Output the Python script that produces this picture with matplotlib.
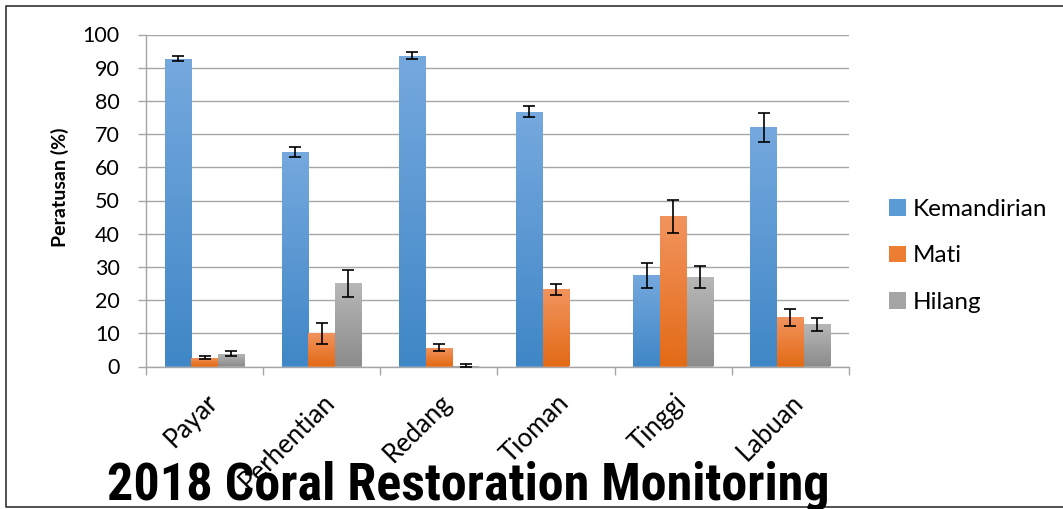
import numpy as np
import matplotlib
matplotlib.use("Agg")
import matplotlib.pyplot as plt
from matplotlib.colors import LinearSegmentedColormap
from matplotlib.patches import Patch
from matplotlib.lines import Line2D
from matplotlib import font_manager
from matplotlib.transforms import ScaledTranslation

# ---------------- data ----------------
categories = ["Payar", "Perhentian", "Redang", "Tioman", "Tinggi", "Labuan"]
series_names = ["Kemandirian", "Mati", "Hilang"]
kemandirian = [92.7, 64.6, 93.6, 76.7, 27.5, 72.1]
kemandirian_err = [0.75, 1.4, 1.0, 1.7, 3.8, 4.4]
mati = [2.7, 10.0, 5.7, 23.2, 45.3, 14.8]
mati_err = [0.5, 3.1, 1.0, 1.7, 5.0, 2.6]
hilang = [3.9, 25.1, 0.3, 0.0, 26.9, 12.7]
hilang_err = [0.65, 4.1, 0.4, 0.0, 3.4, 2.0]
yticks = [0, 10, 20, 30, 40, 50, 60, 70, 80, 90, 100]
title = "2018 Coral Restoration Monitoring"
ylabel = "Peratusan (%)"

values = [kemandirian, mati, hilang]
errors = [kemandirian_err, mati_err, hilang_err]

# colours: (top, bottom) of gradient, and legend colour
grad = [((0.46, 0.66, 0.87), (0.25, 0.53, 0.78)),
        ((0.95, 0.58, 0.37), (0.89, 0.42, 0.09)),
        ((0.72, 0.72, 0.72), (0.55, 0.55, 0.55))]
legend_cols = ["#5b9bd5", "#ed7d31", "#a5a5a5"]

names = {f.name for f in font_manager.fontManager.ttflist}
base_font = "Lato" if "Lato" in names else "DejaVu Sans"
plt.rcParams['font.family'] = [base_font, 'DejaVu Sans']

W, H = 1063, 509
fig = plt.figure(figsize=(W / 100, H / 100), dpi=100)
ax = fig.add_axes([146 / W, 1 - 366.5 / H, (849 - 146) / W, (366.5 - 34.5) / H])

x = np.arange(len(categories))
bw = 0.228
offsets = [-bw, 0, bw]
for i in range(3):
    vals = np.array(values[i], dtype=float)
    errs = np.array(errors[i], dtype=float)
    bars = ax.bar(x + offsets[i], vals, width=bw, color=legend_cols[i],
                  zorder=2, label=series_names[i], linewidth=0)
    cmap = LinearSegmentedColormap.from_list("g%d" % i, [grad[i][1], grad[i][0]])
    for b in bars:
        h = b.get_height()
        if h <= 0:
            continue
        x0 = b.get_x()
        im = ax.imshow(np.linspace(0, 1, 64).reshape(-1, 1), cmap=cmap,
                       origin="lower", aspect="auto",
                       extent=[x0, x0 + b.get_width(), 0, h], zorder=2.5)
        im.set_clip_path(b)
    m = vals > 0
    ax.errorbar((x + offsets[i])[m], vals[m], yerr=errs[m], fmt="none",
                ecolor="black", elinewidth=1.2, capsize=4.3, capthick=1.2,
                zorder=4)

ax.set_xlim(-0.5, len(categories) - 0.5)
ax.set_ylim(0, 100)
ax.set_yticks(yticks)
ax.grid(axis="y", color="#a6a6a6", linewidth=1.0, zorder=0)
ax.set_axisbelow(True)
for s in ["top", "right"]:
    ax.spines[s].set_visible(False)
for s in ["left", "bottom"]:
    ax.spines[s].set_color("#a6a6a6")
    ax.spines[s].set_linewidth(1.0)

ax.tick_params(axis="y", length=6, width=1.0, color="#a6a6a6", pad=13,
               labelsize=15.5)
ax.set_xticks(x)
ax.set_xticks(np.arange(-0.5, len(categories)), minor=True)
ax.tick_params(axis="x", which="major", length=0, pad=23, labelsize=18.5)
ax.tick_params(axis="x", which="minor", length=6, width=1.0, color="#a6a6a6")
ax.set_xticklabels(categories)
for lab in ax.get_xticklabels():
    lab.set_rotation(45)
    lab.set_ha("right")
    lab.set_va("center")
    lab.set_rotation_mode("anchor")
    lab.set_transform(lab.get_transform() + ScaledTranslation(9 / 100, 0, fig.dpi_scale_trans))

fig.text(60 / W, 1 - 187 / H, ylabel, rotation=90, ha="center", va="center",
         fontsize=14, fontweight="bold")

handles = [Patch(facecolor=c, edgecolor="none") for c in legend_cols]
fig.legend(handles, series_names, loc="center left",
           bbox_to_anchor=(889 / W, 1 - 256 / H), frameon=False,
           fontsize=17.5, handlelength=0.68, handleheight=0.68,
           handletextpad=0.3, labelspacing=1.05, borderpad=0, borderaxespad=0)

# title
tfont = None
for cand in ["Liberation Sans Narrow", "Roboto Condensed", "Roboto"]:
    if cand in names:
        tfont = cand
        break
if tfont is None:
    tfont = "DejaVu Sans"
t = fig.text(468 / W, 1 - 500 / H, title, ha="center", va="baseline",
             fontsize=30, fontweight="bold", family=tfont)
fig.canvas.draw()
bb = t.get_window_extent()
t.set_fontsize(30 * 723 / bb.width)

# border (top, left, bottom)
fig.add_artist(Line2D([1.0, 6 / W, 6 / W, 1.0],
                      [1 - 5.5 / H, 1 - 5.5 / H, 1 - 506.5 / H, 1 - 506.5 / H],
                      transform=fig.transFigure, color="#333333", linewidth=1.2))

fig.savefig("out.png", dpi=100)
